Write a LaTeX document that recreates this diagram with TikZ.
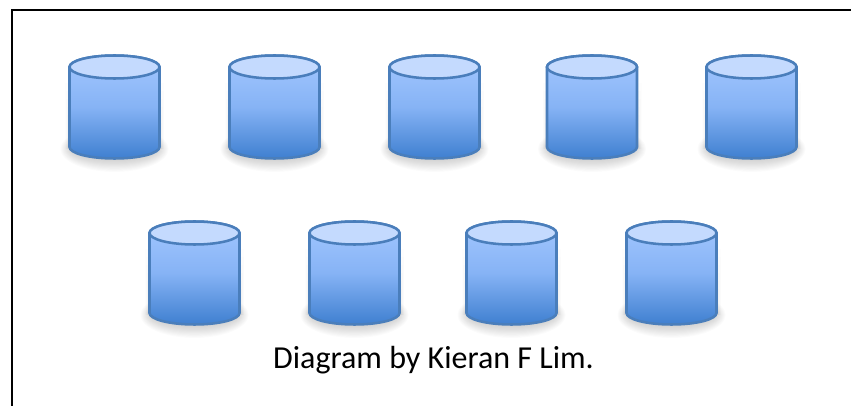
\documentclass[tikz,border=0pt]{standalone}
\usepackage{fontspec}
\setmainfont{Carlito}
\definecolor{rimblue}{HTML}{4A7EBB}
\definecolor{topblue}{HTML}{C4DAFE}
\definecolor{upblue}{HTML}{A3C7FF}
\definecolor{midblue}{HTML}{86B3F5}
\definecolor{lowblue}{HTML}{3F7FD0}
\tikzset{
  x=0.75pt, y=-0.75pt,
  rimline/.style={draw=rimblue, line width=1.9pt},
  cyl/.pic={
    % soft shadow
    \foreach \s in {1,...,14}
      \fill[black, opacity=0.016] (0,94) ellipse[x radius=55-1.0*\s, y radius=24-1.1*\s];
    \foreach \s in {1,...,8}
      \fill[black, opacity=0.007] (-50+0.5*\s,20+8*\s) rectangle (50-0.5*\s,94);
    % body
    \path[rimline, top color=upblue, bottom color=lowblue, middle color=midblue]
      (-45,12) -- (-45,92) arc[start angle=180, end angle=0, x radius=45, y radius=11.5]
      -- (45,12) arc[start angle=0, end angle=-180, x radius=45, y radius=11.5] -- cycle;
    % lid
    \path[rimline, fill=topblue] (0,12) ellipse[x radius=45, y radius=11.5];
  },
}
\begin{document}
\begin{tikzpicture}
  \useasboundingbox (0,0) rectangle (851,406);
  % frame
  \coordinate (fl) at (12,406);
  \coordinate (fc) at (12,10);
  \coordinate (fr) at (851,10);
  \draw[line width=1.5pt] (fl) -- (fc) -- (fr);
  % top row
  \foreach \n/\x in {a/114.5,b/274.5,c/434.5,d/592,e/751.5}
    \pic (\n) at (\x,55) {cyl};
  % bottom row
  \foreach \n/\x in {f/194.5,g/354.5,h/511.5,i/671.5}
    \pic (\n) at (\x,221) {cyl};
  % caption
  \node (credit) at (433.5,360) {\fontsize{24pt}{28pt}\selectfont Diagram by Kieran F Lim.};
\end{tikzpicture}
\end{document}
